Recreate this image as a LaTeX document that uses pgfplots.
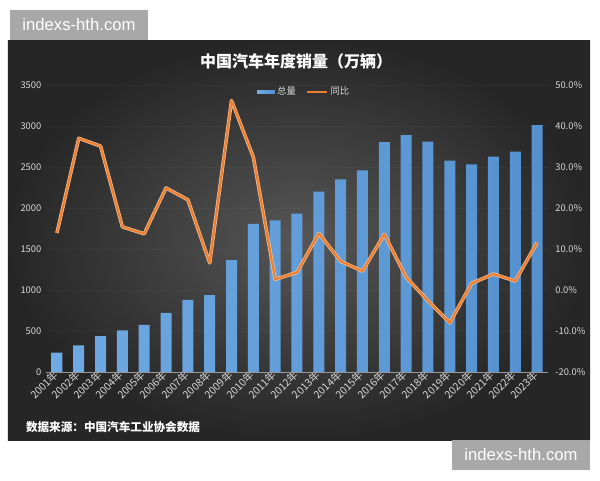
\documentclass[border=0pt]{standalone}
\usepackage{pgfplots}
\pgfplotsset{compat=1.18}
\usepackage{pgfplotstable}
\usetikzlibrary{backgrounds}
\usepackage{fontspec}
\setmainfont{Noto Sans CJK SC}
\newfontfamily\wmfont{Liberation Sans}

\definecolor{barblue}{RGB}{91,155,213}
\definecolor{lineorange}{RGB}{237,125,49}
\definecolor{lineedge}{RGB}{248,196,150}
\definecolor{ticktext}{RGB}{217,217,217}
\definecolor{wmgray}{RGB}{168,168,168}

% x total(万辆) yoy(%)
\pgfplotstableread{
x  total   yoy
0  236.4   13.9
1  325.1   37.0
2  439.1   35.1
3  507.1   15.4
4  575.8   13.7
5  721.6   24.9
6  879.2   22.0
7  938.1   6.6
8  1364.5  46.2
9  1806.2  32.4
10 1850.5  2.6
11 1930.6  4.3
12 2198.4  13.8
13 2349.2  7.0
14 2459.8  4.6
15 2802.8  13.6
16 2887.9  3.1
17 2808.1  -2.6
18 2576.9  -8.0
19 2531.1  1.6
20 2627.5  3.9
21 2686.4  2.2
22 3009.4  11.6
}\sales

\pgfplotsset{twin/.style={scale only axis, width=376.5pt, height=215.25pt,
  xmin=-0.5, xmax=22.5,
  axis line style={draw=none}, tick style={draw=none},
  /pgf/number format/assume math mode=true,
  /pgf/number format/1000 sep={},
  yticklabel style={text=ticktext, font=\fontsize{7}{8}\selectfont}}}

\begin{document}
\begin{tikzpicture}
\begin{axis}[twin,
  ymin=0, ymax=3500,
  ytick={0,500,...,3500},
  ymajorgrids, major grid style={white, opacity=0.03},
  xtick={0,...,22},
  xticklabels={2001年,2002年,2003年,2004年,2005年,2006年,2007年,2008年,2009年,2010年,2011年,2012年,2013年,2014年,2015年,2016年,2017年,2018年,2019年,2020年,2021年,2022年,2023年},
  xticklabel style={rotate=45, anchor=east, text=ticktext, font=\fontsize{7.8}{8}\selectfont, xshift=2.5pt},
  legend columns=2,
  legend style={at={(0.515,1.012)}, anchor=north, draw=none, fill=none,
    text=ticktext, font=\fontsize{7}{8}\selectfont,
    /tikz/every even column/.append style={column sep=5pt}},
]
\coordinate (P) at (rel axis cs:0,0);
\addplot[ybar, bar width=8.25pt, draw=none,
  left color={rgb,255:red,112;green,170;blue,228}, right color={rgb,255:red,84;green,145;blue,206},
  legend image code/.code={\fill[barblue] (0pt,-1.3pt) rectangle (13pt,1.3pt);}]
  table[x=x, y=total]{\sales};
\addlegendentry{总量}
\addlegendimage{lineorange, line width=2pt, legend image code/.code={\draw[lineorange, line width=2pt] (0pt,0pt) -- (15pt,0pt);}}
\addlegendentry{同比}
\draw[ticktext!70!black, line width=0.6pt] (axis cs:-0.5,0) -- (axis cs:22.5,0);
\end{axis}

\begin{axis}[twin,
  ymin=-20, ymax=50,
  ytick={-20,-10,...,50},
  axis y line*=right, axis x line=none,
  xtick=\empty,
  yticklabel={\pgfmathprintnumber[fixed, fixed zerofill, precision=1]{\tick}\%},
  yticklabel style={xshift=2pt},
]
\addplot[lineedge, line width=2.6pt, line join=round, no marks] table[x=x, y=yoy]{\sales};
\addplot[lineorange, line width=1.6pt, line join=round, no marks] table[x=x, y=yoy]{\sales};
\end{axis}

\begin{scope}[on background layer, shift={(P)}, xshift=-34.5pt, yshift=-81pt, x=1pt, y=1pt]
\fill[white] (0,0) rectangle (450,360);
\shade[inner color={rgb,255:red,86;green,86;blue,86}, outer color={rgb,255:red,38;green,38;blue,38}] (6,30) rectangle (442.5,330);
\fill[wmgray] (7.5,330) rectangle (111,352.5);
\node[white,font=\wmfont\fontsize{12.5}{14}\selectfont] at (59.25,341.25) {indexs-hth.com};
\fill[wmgray] (339,7.5) rectangle (442.5,30);
\node[white,font=\wmfont\fontsize{12.5}{14}\selectfont] at (390.75,18.75) {indexs-hth.com};
\node[white,font=\bfseries\fontsize{12}{14}\selectfont] at (222,314.25) {中国汽车年度销量（万辆）};
\node[white,anchor=west,font=\bfseries\fontsize{8.7}{10}\selectfont] at (16,39.75) {数据来源：中国汽车工业协会数据};
\end{scope}
\end{tikzpicture}
\end{document}
